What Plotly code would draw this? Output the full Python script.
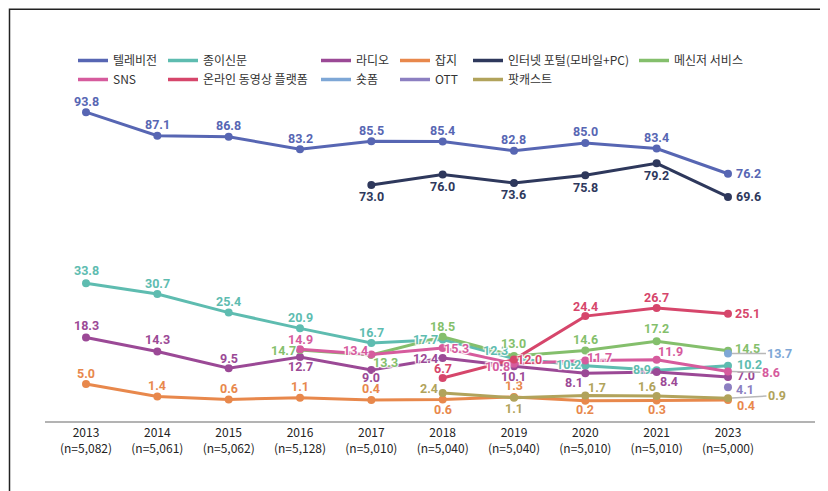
import plotly.graph_objects as go

# ---------------- data ----------------
YEARS = ['2013', '2014', '2015', '2016', '2017', '2018', '2019', '2020', '2021', '2023']
N_LABELS = ['n=5,082', 'n=5,061', 'n=5,062', 'n=5,128', 'n=5,010',
            'n=5,040', 'n=5,040', 'n=5,010', 'n=5,010', 'n=5,000']

tv = [93.8, 87.1, 86.8, 83.2, 85.5, 85.4, 82.8, 85.0, 83.4, 76.2]
newspaper = [33.8, 30.7, 25.4, 20.9, 16.7, 17.7, 12.3, 10.2, 8.9, 10.2]
radio = [18.3, 14.3, 9.5, 12.7, 9.0, 12.4, 10.1, 8.1, 8.4, 7.0]
magazine = [5.0, 1.4, 0.6, 1.1, 0.4, 0.6, 1.3, 0.2, 0.3, 0.4]
portal_years = YEARS[4:]
portal = [73.0, 76.0, 73.6, 75.8, 79.2, 69.6]
messenger_years = YEARS[3:]
messenger = [14.7, 13.3, 18.5, 13.0, 14.6, 17.2, 14.5]
sns_years = YEARS[3:]
sns = [14.9, 13.4, 15.3, 10.8, 11.7, 11.9, 8.6]
video_years = YEARS[5:]
video = [6.7, 12.0, 24.4, 26.7, 25.1]
shortform_years = ['2023']
shortform = [13.7]
ott_years = ['2023']
ott = [4.1]
podcast_years = YEARS[5:]
podcast = [2.4, 1.1, 1.7, 1.6, 0.9]

NAMES = {
    'tv': '텔레비전', 'newspaper': '종이신문', 'radio': '라디오', 'magazine': '잡지',
    'portal': '인터넷 포털(모바일+PC)', 'messenger': '메신저 서비스', 'sns': 'SNS',
    'video': '온라인 동영상 플랫폼', 'shortform': '숏폼', 'ott': 'OTT', 'podcast': '팟캐스트',
}

SERIES = {
    'newspaper': (YEARS, newspaper), 'magazine': (YEARS, magazine),
    'podcast': (podcast_years, podcast), 'radio': (YEARS, radio),
    'messenger': (messenger_years, messenger), 'sns': (sns_years, sns),
    'video': (video_years, video), 'shortform': (shortform_years, shortform),
    'ott': (ott_years, ott), 'tv': (YEARS, tv), 'portal': (portal_years, portal),
}
UPPER = {'tv', 'portal'}  # drawn on the upper (broken) axis segment

# ---------------- styling ----------------
COLORS = {
    'tv': '#5766B3', 'newspaper': '#5EBCB0', 'radio': '#9B4996', 'magazine': '#E8884C',
    'portal': '#2E385C', 'messenger': '#84BF6C', 'sns': '#D65B9D', 'video': '#D6466B',
    'shortform': '#7EA7D6', 'ott': '#8C7FC1', 'podcast': '#B1A35B',
}
# label offsets (px, right/down) from each point
LABEL_OFFSETS = {
    'tv': [(0, -11)] * 9 + [(21, 0)],
    'portal': [(0, 12)] * 5 + [(21, 0)],
    'newspaper': [(0, -13), (0, -11), (0, -11), (0, -11), (0, -11),
                  (-17, 0), (-18, -8), (-17, -1), (-15, -1), (22, -1)],
    'radio': [(0, -12), (0, -12), (0, -10), (0, 9), (0, 7),
              (-17, 0), (0, 10), (-11, 9), (12, 9), (18, -2)],
    'magazine': [(0, -11), (0, -11), (0, -11), (0, -11), (0, -12),
                 (0, 10), (0, -11), (0, 9), (0, 9), (18, 5)],
    'messenger': [(-17, 0), (14, 8), (0, -10), (0, -13), (0, -11), (0, -13), (20, -2)],
    'sns': [(0, -10), (-16, -4), (14, 1), (-16, 3), (14, -3), (14, -8), None],
    'video': [(0, -10), (16, 0), (0, -10), (0, -11), (20, 0)],
    'shortform': [None],
    'ott': [(17, 2)],
    'podcast': [(-14, -5), (0, 11), (12, -8), (-10, -9), None],
}
# labels connected to their point by a thin leader line
LEADERS = {('shortform', 0): (52, 0), ('sns', 6): (43, 1), ('podcast', 4): (49, -3)}

LABEL_FONT = 'Roboto, sans-serif'
HALO = '1px 1px 1px #fff, -1px -1px 1px #fff, 1px -1px 1px #fff, -1px 1px 1px #fff'

# geometry (the page body adds an 8px margin around the figure)
BODY = 8
W, H = 828 - BODY, 491 - BODY
PLOT_L, PLOT_T, PLOT_W, PLOT_H = 45 - BODY, 100 - BODY, 770, 321
SCR_L, SCR_B = 45, 421  # plot-area left / bottom in screen px


def paper_x(sx):
    return (sx - SCR_L) / PLOT_W


def paper_y(sy):
    return (SCR_B - sy) / PLOT_H


fig = go.Figure()

for key, (xs, ys) in SERIES.items():
    yref = 'y2' if key in UPPER else 'y'
    fig.add_trace(go.Scatter(
        x=xs, y=ys, yaxis=yref, mode='lines+markers', name=NAMES[key],
        showlegend=False, cliponaxis=False,
        line=dict(color=COLORS[key], width=3),
        marker=dict(color=COLORS[key], size=8),
        hoverinfo='skip',
    ))
    for i, (xv, yv) in enumerate(zip(xs, ys)):
        font = dict(family=LABEL_FONT, size=12.5, color=COLORS[key], weight=700, shadow=HALO)
        if (key, i) in LEADERS:
            ax, ay = LEADERS[(key, i)]
            arrow = dict(arrowwidth=1.5, arrowcolor='#b8b8b8', standoff=4)
        else:
            ax, ay = LABEL_OFFSETS[key][i]
            arrow = dict(arrowwidth=0.1, arrowcolor='rgba(0,0,0,0)', standoff=0)
        fig.add_annotation(x=YEARS.index(xv), y=yv, xref='x', yref=yref, text=f'{yv:.1f}',
                           showarrow=True, arrowhead=0, ax=ax, ay=ay, font=font, **arrow)

# legend columns (dummy legend entries)
LEGEND_COLS = [['tv', 'sns'], ['newspaper', 'video'], ['radio', 'shortform'],
               ['magazine', 'ott'], ['portal', 'podcast'], ['messenger']]
COL_X = [73, 163, 316, 395, 468, 634]  # screen px
for i, col in enumerate(LEGEND_COLS):
    lname = 'legend' if i == 0 else f'legend{i + 1}'
    for key in col:
        fig.add_trace(go.Scatter(x=[None], y=[None], mode='lines', name=NAMES[key],
                                 line=dict(color=COLORS[key], width=3.5), legend=lname,
                                 hoverinfo='skip'))
    fig.update_layout(**{lname: dict(
        x=paper_x(COL_X[i]), xanchor='left', y=paper_y(46), yanchor='top',
        orientation='v', bgcolor='rgba(0,0,0,0)', itemwidth=30,
        font=dict(family='Noto Sans CJK KR, sans-serif', size=12, color='#333'),
    )})

fig.update_layout(
    width=W, height=H,
    margin=dict(l=PLOT_L, r=W - PLOT_L - PLOT_W, t=PLOT_T, b=H - PLOT_T - PLOT_H),
    paper_bgcolor='white', plot_bgcolor='white',
    xaxis=dict(type='category', categoryorder='array', categoryarray=YEARS,
               range=[-0.575, 10.22], showgrid=False, zeroline=False,
               showline=True, linecolor='#b3b3b3', linewidth=2, ticks='',
               tickvals=YEARS, ticktext=[f'{y}<br>({n})' for y, n in zip(YEARS, N_LABELS)],
               tickfont=dict(family='Noto Sans CJK KR, sans-serif', size=12, color='#222')),
    yaxis=dict(range=[-5.57, 86.14], visible=False, fixedrange=True),
    yaxis2=dict(range=[5.57, 97.28], overlaying='y', visible=False, fixedrange=True),
    showlegend=True,
    shapes=[dict(type='rect', xref='paper', yref='paper',
                 x0=paper_x(9.5), x1=1.2, y0=-0.4, y1=paper_y(9.2),
                 line=dict(color='#222', width=1.5), fillcolor='rgba(0,0,0,0)', layer='below')],
)

fig.write_html('out.html', config={'displayModeBar': False})
